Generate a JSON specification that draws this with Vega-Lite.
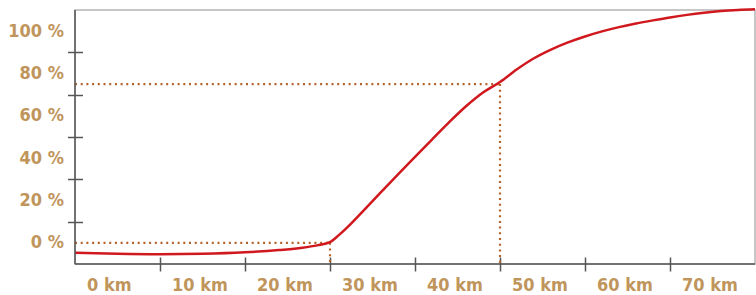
{
  "$schema": "https://vega.github.io/schema/vega-lite/v6.json",
  "width": 680,
  "height": 254,
  "autosize": "none",
  "padding": {"left": 75, "top": 10, "right": 1, "bottom": 31},
  "background": "white",
  "config": {
    "view": {"stroke": "#b4b4b4", "strokeWidth": 1.5},
    "axis": {
      "labelFont": "DejaVu Sans Condensed",
      "labelFontWeight": "bold",
      "labelFontSize": 18,
      "labelColor": "#c0955c",
      "tickColor": "#555555",
      "tickWidth": 1.5,
      "domain": false,
      "grid": false,
      "title": null
    }
  },
  "datasets": {
    "curve": [
      {"km": 0, "pct": -4.7},
      {"km": 5, "pct": -5.2},
      {"km": 10, "pct": -5.4},
      {"km": 15, "pct": -5.2},
      {"km": 20, "pct": -4.5},
      {"km": 24, "pct": -3.4},
      {"km": 26.5, "pct": -2.4},
      {"km": 28.5, "pct": -1.2},
      {"km": 30, "pct": 0.3},
      {"km": 31, "pct": 3.5},
      {"km": 32, "pct": 7.2},
      {"km": 34, "pct": 15.5},
      {"km": 36, "pct": 24},
      {"km": 38, "pct": 32.3},
      {"km": 40, "pct": 40.6},
      {"km": 42, "pct": 48.8},
      {"km": 44, "pct": 56.9},
      {"km": 46, "pct": 64.5},
      {"km": 48, "pct": 71},
      {"km": 50, "pct": 76},
      {"km": 52, "pct": 82},
      {"km": 54, "pct": 87.2},
      {"km": 56, "pct": 91.3},
      {"km": 58, "pct": 94.7},
      {"km": 60, "pct": 97.5},
      {"km": 62, "pct": 99.9},
      {"km": 64, "pct": 101.9},
      {"km": 66, "pct": 103.6},
      {"km": 68, "pct": 105.1},
      {"km": 70, "pct": 106.5},
      {"km": 72, "pct": 107.7},
      {"km": 74, "pct": 108.7},
      {"km": 76, "pct": 109.5},
      {"km": 78, "pct": 110},
      {"km": 80, "pct": 110.3}
    ],
    "guides": [
      {"x": 0, "x2": 30, "y": 0, "y2": 0},
      {"x": 0, "x2": 50, "y": 75, "y2": 75},
      {"x": 30, "x2": 30, "y": 0, "y2": -10},
      {"x": 50, "x2": 50, "y": 75, "y2": -10}
    ]
  },
  "layer": [
    {
      "data": {"name": "guides"},
      "mark": {"type": "rule", "color": "#b5622a", "strokeWidth": 2.2, "strokeDash": [2, 3.7]},
      "encoding": {
        "x": {
          "field": "x", "type": "quantitative",
          "scale": {"domain": [0, 80], "nice": false, "zero": false},
          "axis": {
            "values": [0, 10, 20, 30, 40, 50, 60, 70],
            "labelExpr": "datum.value + ' km'",
            "labelAlign": "left",
            "labelOffset": 11.5,
            "labelBaseline": "top",
            "labelPadding": 5,
            "offset": -7,
            "tickSize": 14,
            "tickColor": {"condition": {"test": "datum.value == 0", "value": "transparent"}, "value": "#555555"}
          }
        },
        "x2": {"field": "x2"},
        "y": {
          "field": "y", "type": "quantitative",
          "scale": {"domain": [-10, 110], "nice": false, "zero": false},
          "axis": {
            "values": [10, 30, 50, 70, 90, 110],
            "labelExpr": "(datum.value - 10) + ' %'",
            "labelOffset": 21.17,
            "labelPadding": 4,
            "offset": -7.5,
            "tickSize": 15,
            "tickColor": {"condition": {"test": "datum.value > 100", "value": "transparent"}, "value": "#555555"}
          }
        },
        "y2": {"field": "y2"}
      }
    },
    {
      "data": {"name": "curve"},
      "mark": {"type": "line", "color": "#d0191e", "strokeWidth": 2.5, "interpolate": "monotone"},
      "encoding": {
        "x": {"field": "km", "type": "quantitative"},
        "y": {"field": "pct", "type": "quantitative"}
      }
    },
    {
      "data": {"values": [{"v": 0}]},
      "mark": {"type": "rule", "color": "#555555", "strokeWidth": 1.5},
      "encoding": {"x": {"field": "v", "type": "quantitative"}}
    },
    {
      "data": {"values": [{"v": -10}]},
      "mark": {"type": "rule", "color": "#555555", "strokeWidth": 1.5},
      "encoding": {"y": {"field": "v", "type": "quantitative"}}
    }
  ]
}
